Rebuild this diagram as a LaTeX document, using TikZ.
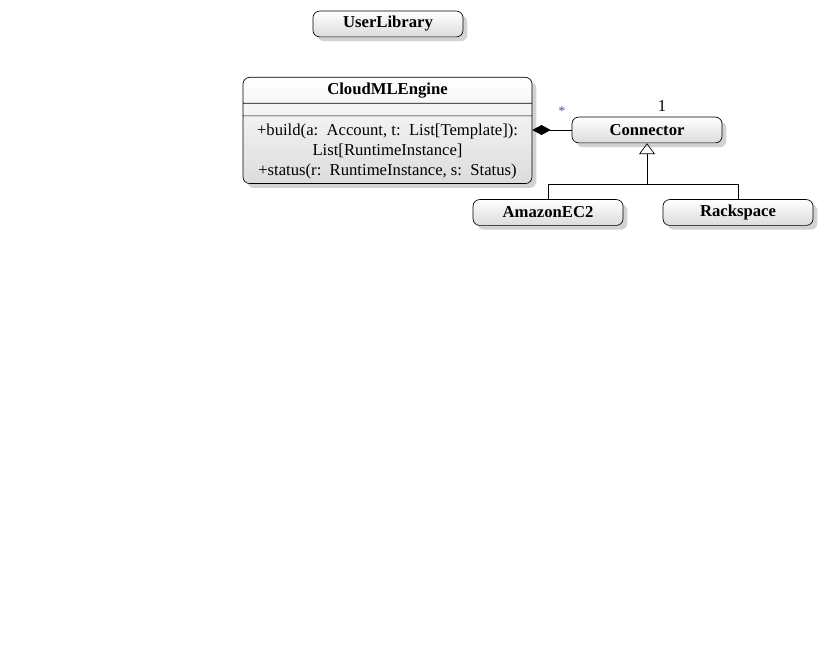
\documentclass[tikz,border=0pt]{standalone}
\usepackage{fontspec}
\setmainfont{Liberation Serif}
\usepackage{tikz}
\usetikzlibrary{arrows.meta,shapes.multipart,shadows,positioning,calc}
\definecolor{starblue}{RGB}{40,85,140}

\begin{document}
\begin{tikzpicture}[x=0.6pt,y=0.6pt,
  umlbox/.style={draw=black,rounded corners=4pt,top color=white,bottom color=black!14,
    drop shadow={shadow xshift=2.6pt,shadow yshift=-2.6pt,fill=black!35},
    font=\bfseries,inner sep=3pt},
  classbox/.style={umlbox,minimum width=90pt,minimum height=15.5pt},
  compose/.style={{Diamond[length=11pt,width=6pt]}-},
  inherit/.style={-{Triangle[open,length=6.5pt,width=9.5pt]}}]
\useasboundingbox (0,0) rectangle (835,667);
% classes
\node[classbox] (userlib) at (388,643) {UserLibrary};
\node[umlbox,rectangle split,rectangle split parts=3,anchor=north,minimum width=173.4pt,
  rectangle split part align={center,center,center}] (engine) at (387.5,590)
  {CloudMLEngine%
   \nodepart{two}\rule{0pt}{1.2pt}%
   \nodepart{three}\raisebox{0pt}[\height][\dimexpr\depth-2.2pt]{\begin{tabular}{@{}c@{}}\mdseries +build(a:\ \ Account, t:\ \ List[Template]):\\[0.2pt]
   \mdseries List[RuntimeInstance]\\[0.2pt]
   \mdseries +status(r:\ \ RuntimeInstance, s:\ \ Status)\end{tabular}}};
\node[classbox] (conn) at (647,537) {Connector};
\node[classbox] (amazon) at (548,454.5) {AmazonEC2};
\node[classbox] (rack) at (738,454.5) {Rackspace};
% composition
\draw[compose] (conn.west -| engine.east) -- (conn.west);
\node[text=starblue,font=\footnotesize] (many) at (562,556) {*};
\node (one) at (662,561) {1};
% generalization
\coordinate (fork) at ($(conn.south)+(0,-41)$);
\draw[inherit] (fork) -- (conn.south);
\draw (amazon.north) |- (fork) -| (rack.north);
\end{tikzpicture}
\end{document}
